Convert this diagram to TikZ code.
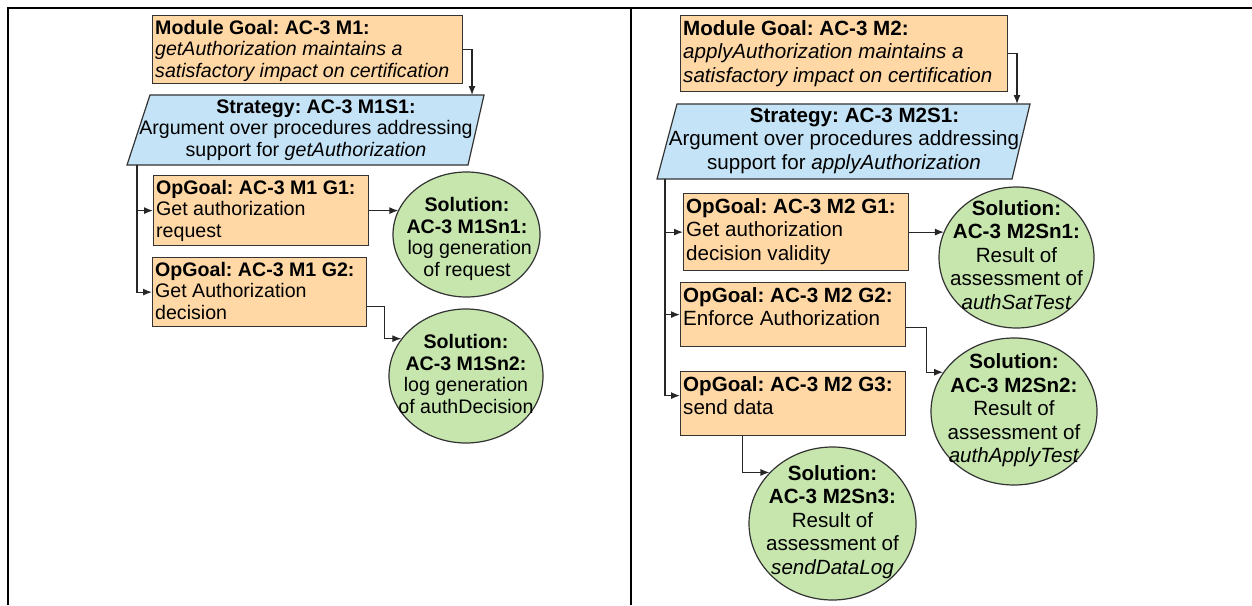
\documentclass[tikz,border=0pt]{standalone}
\usepackage{fontspec}
\setmainfont{Liberation Sans}
\usetikzlibrary{shapes.geometric, arrows.meta, calc}
\frenchspacing

\definecolor{goalfill}{HTML}{FFD8A6}
\definecolor{stratfill}{HTML}{C5E3F6}
\definecolor{solfill}{HTML}{C7E6AE}
\definecolor{edgecol}{HTML}{333333}

\tikzset{
  goalbox/.style={draw=edgecol, fill=goalfill, line width=1.2pt, rectangle,
    inner sep=0pt, anchor=north west},
  stratbox/.style={draw=edgecol, fill=stratfill, line width=1.2pt, line join=miter},
  solbox/.style={draw=edgecol, fill=solfill, line width=1.2pt, ellipse, inner sep=0pt},
  lefttext/.style={font=\fontsize{19.6}{21.5}\selectfont},
  righttext/.style={font=\fontsize{20.6}{23.5}\selectfont},
  goaltext/.style={anchor=north west, inner xsep=3pt, inner ysep=5pt, align=left},
  midtext/.style={align=center, inner sep=0pt},
  link/.style={draw=black!85, line width=1.2pt, -{Latex[length=9pt,width=7pt]}},
  framestroke/.style={line width=2.5pt, black},
}

\begin{document}
\begin{tikzpicture}[x=1pt, y=-1pt]
\useasboundingbox (0,0) rectangle (1252,605);

% table frame
\draw[framestroke] (8,605) -- (8,8) -- (1252,8);
\draw[framestroke] (631,8) -- (631,605);

% ---------------- module AC-3 M1 ----------------
\node[goalbox, minimum width=310, minimum height=68] (m1) at (152,15) {};
\node[goaltext, lefttext] (m1t) at (m1.north west)
  {\textbf{Module Goal: AC-3 M1:}\\ \textit{getAuthorization maintains a}\\ \textit{satisfactory impact on certification}};

% strategy parallelogram
\coordinate (s1tl) at (150,95);
\coordinate (s1tr) at (484,95);
\coordinate (s1br) at (468,165);
\coordinate (s1bl) at (127,165);
\draw[stratbox] (s1tl) -- (s1tr) -- (s1br) -- (s1bl) -- cycle;
\node[midtext, lefttext] (s1t) at (306,130)
  {\hspace*{20pt}\textbf{Strategy: AC-3 M1S1:}\\ Argument over procedures addressing\\ support for \textit{getAuthorization}};

\node[goalbox, minimum width=215, minimum height=70] (g11) at (153,175) {};
\node[goaltext, lefttext] (g11t) at (g11.north west)
  {\textbf{OpGoal: AC-3 M1 G1:}\\ Get authorization\\ request};

\node[goalbox, minimum width=214, minimum height=69] (g12) at (152,257) {};
\node[goaltext, lefttext] (g12t) at (g12.north west)
  {\textbf{OpGoal: AC-3 M1 G2:}\\ Get Authorization\\ decision};

\node[solbox, minimum width=147, minimum height=125] (sn11) at (466.5,234.5) {};
\node[midtext, lefttext] (sn11t) at (467,239)
  {\textbf{Solution:}\\ \textbf{AC-3 M1Sn1:}\\ \ log generation\\ of request};

\node[solbox, minimum width=154, minimum height=134] (sn12) at (466,376) {};
\node[midtext, lefttext] (sn12t) at (466,374)
  {\textbf{Solution:}\\ \textbf{AC-3 M1Sn2:}\\ log generation\\ of authDecision};

% connectors M1
\draw[link] (m1.east) -| ($(s1tr)+(-12,0)$);
\coordinate (sp1) at ($(s1bl)+(10,0)$);
\draw[link] (sp1) |- (g12.west);
\draw[link] (sp1 |- g11.west) -- (g11.west);
\draw[link] (g11.east) -- (g11.east -| sn11.160);
\draw[link] ($(g12.east)+(0,14.5)$) -- ++(17,0) |- (sn12.150);

% ---------------- module AC-3 M2 ----------------
\node[goalbox, minimum width=327, minimum height=76] (m2) at (680,15) {};
\node[goaltext, righttext] (m2t) at (m2.north west)
  {\textbf{Module Goal: AC-3 M2:}\\ \textit{applyAuthorization maintains a}\\ \textit{satisfactory impact on certification}};

% strategy parallelogram
\coordinate (s2tl) at (677,104);
\coordinate (s2tr) at (1030,104);
\coordinate (s2br) at (1012,179);
\coordinate (s2bl) at (657,179);
\draw[stratbox] (s2tl) -- (s2tr) -- (s2br) -- (s2bl) -- cycle;
\node[midtext, righttext] (s2t) at (844,140.5)
  {\hspace*{21pt}\textbf{Strategy: AC-3 M2S1:}\\ Argument over procedures addressing\\ support for \textit{applyAuthorization}};

\node[goalbox, minimum width=225, minimum height=77] (g21) at (683,193) {};
\node[goaltext, righttext] (g21t) at (g21.north west)
  {\textbf{OpGoal: AC-3 M2 G1:}\\ Get authorization\\ decision validity};

\node[goalbox, minimum width=225, minimum height=64] (g22) at (680,282) {};
\node[goaltext, righttext] (g22t) at (g22.north west)
  {\textbf{OpGoal: AC-3 M2 G2:}\\ Enforce Authorization};

\node[goalbox, minimum width=225, minimum height=64] (g23) at (680,371) {};
\node[goaltext, righttext] (g23t) at (g23.north west)
  {\textbf{OpGoal: AC-3 M2 G3:}\\ send data};

\node[solbox, minimum width=155, minimum height=141] (sn21) at (1016.5,257.5) {};
\node[midtext, righttext] (sn21t) at (1016.5,255)
  {\textbf{Solution:}\\ \textbf{AC-3 M2Sn1:}\\ Result of\\ assessment of\\ \textit{authSatTest}};

\node[solbox, minimum width=166, minimum height=147] (sn22) at (1014,411.5) {};
\node[midtext, righttext] (sn22t) at (1014,410.5)
  {\textbf{Solution:}\\ \textbf{AC-3 M2Sn2:}\\ Result of\\ assessment of\\ \textit{authApplyTest}};

\node[solbox, minimum width=167, minimum height=153] (sn23) at (832.5,523.5) {};
\node[midtext, righttext] (sn23t) at (832.5,522)
  {\textbf{Solution:}\\ \textbf{AC-3 M2Sn3:}\\ Result of\\ assessment of\\ \textit{sendDataLog}};

% connectors M2
\draw[link] (m2.east) -| ($(s2tr)+(-13,0)$);
\coordinate (sp2) at ($(s2bl)+(8,0)$);
\draw[link] (sp2) |- ($(g23.west)+(0,-8)$);
\draw[link] (sp2 |- g21.west) -- (g21.west);
\draw[link] (sp2 |- g22.west) -- (g22.west);
\draw[link] (g21.east) -- (g21.east -| sn21.160.5);
\draw[link] ($(g22.east)+(0,13)$) -- ++(20,0) |- (sn22.151.4);
\draw[link] ($(g23.south)+(-50.5,0)$) |- (sn23.141);
\end{tikzpicture}
\end{document}
